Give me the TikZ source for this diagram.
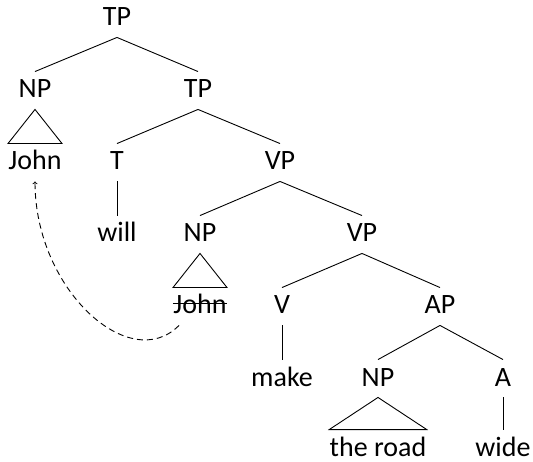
\documentclass[tikz,border=0pt]{standalone}
\usepackage{fontspec}
\setmainfont{Carlito}
\begin{document}
\begin{tikzpicture}[x=1pt,y=-1pt,line width=0.9pt,
    lbl/.style={anchor=base,inner xsep=0pt,inner ysep=8pt,text height=18pt,text depth=3pt,
      font=\fontsize{28}{32}\selectfont}]
    \useasboundingbox (0,0) rectangle (533,462);

    % labels, one row per level
    \node[lbl] (tp) at (117,26) {TP};
    \node[lbl] (np1) at (35,98) {NP};
    \node[lbl] (tp2) at (198,98) {TP};
    \node[lbl] (john) at (35,170) {John};
    \node[lbl] (t) at (117,170) {T};
    \node[lbl] (vp) at (280,170) {VP};
    \node[lbl] (will) at (117,242) {will};
    \node[lbl] (np2) at (200,242) {NP};
    \node[lbl] (vp2) at (362,242) {VP};
    \node[lbl] (trace) at (200,314) {John};
    \node[lbl] (v) at (282,314) {V};
    \node[lbl] (ap) at (440,314) {AP};
    \node[lbl] (make) at (282,386) {make};
    \node[lbl] (np3) at (378,386) {NP};
    \node[lbl] (a) at (503,386) {A};
    \node[lbl] (road) at (378,456) {the road};
    \node[lbl] (wide) at (503,456) {wide};

    % branches
    \draw (tp.south) -- (np1.north);
    \draw (tp.south) -- (tp2.north);
    \draw (tp2.south) -- (t.north);
    \draw (tp2.south) -- (vp.north);
    \draw (t.south) -- (will.north);
    \draw (vp.south) -- (np2.north);
    \draw (vp.south) -- (vp2.north);
    \draw (vp2.south) -- (v.north);
    \draw (vp2.south) -- (ap.north);
    \draw (v.south) -- (make.north);
    \draw (ap.south) -- (np3.north);
    \draw (ap.south) -- (a.north);
    \draw (a.south) -- (wide.north);

    % triangles
    \draw (np1.south) -- (john.north west) -- (john.north east) -- cycle;
    \draw (np2.south) -- (trace.north west) -- (trace.north east) -- cycle;
    \draw (np3.south) -- (road.north west) -- (road.north east) -- cycle;

    % strike through the trace
    \draw ([yshift=11pt]trace.base west) -- ([yshift=11pt]trace.base east);

    % movement
    \draw[dash pattern=on 6pt off 4pt,->] ([xshift=6pt]trace.south west) .. controls (130,375) and (35,290) .. (john.south);
\end{tikzpicture}
\end{document}
